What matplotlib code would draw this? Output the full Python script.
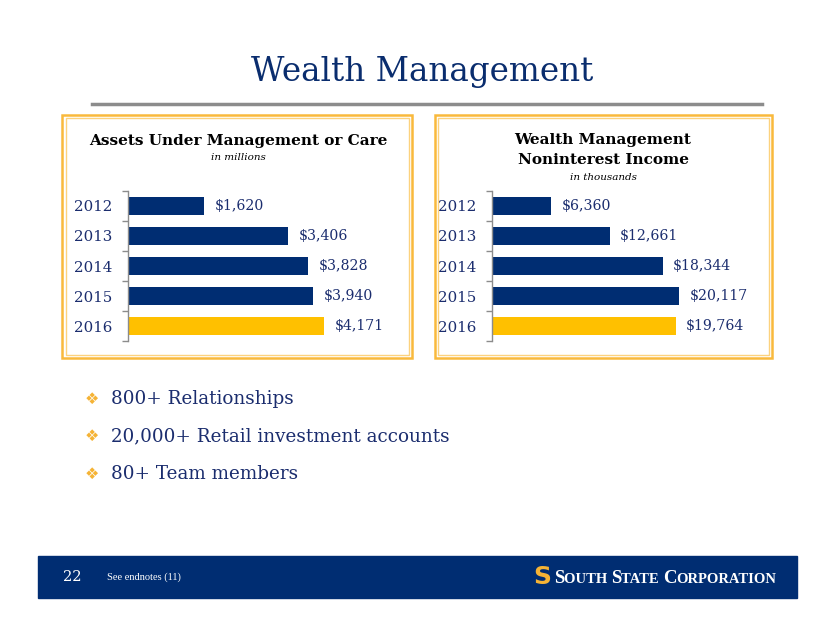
import matplotlib
matplotlib.use("Agg")
import matplotlib.pyplot as plt
from matplotlib.patches import Rectangle
from matplotlib.ticker import FixedLocator

# data
years = ["2012", "2013", "2014", "2015", "2016"]
aum_values = [1620, 3406, 3828, 3940, 4171]
income_values = [6360, 12661, 18344, 20117, 19764]
bullets = ["800+ Relationships", "20,000+ Retail investment accounts", "80+ Team members"]

NAVY = "#002D72"
GOLD = "#FFC000"
TEXT_NAVY = "#1B2D6E"
BORDER = "#F9B93C"
SERIF = ["DejaVu Serif"]

W, H = 834, 635
fig = plt.figure(figsize=(W / 100, H / 100), dpi=100)


def fx(px):
    return px / W


def fy(py):
    return 1 - py / H


def box(x0, y0, x1, y1):
    # double orange frame: thick outer, thin light inner
    fig.patches.append(Rectangle((fx(x0), fy(y1)), fx(x1 - x0), (y1 - y0) / H,
                                 transform=fig.transFigure, fill=False,
                                 edgecolor=BORDER, lw=1.8))
    fig.patches.append(Rectangle((fx(x0 + 3.5), fy(y1 - 3.5)), fx(x1 - x0 - 7), (y1 - y0 - 7) / H,
                                 transform=fig.transFigure, fill=False,
                                 edgecolor="#FCD27E", lw=1.0))


def bar_panel(rect, values, xmax, fmt):
    ax = fig.add_axes(rect)
    colors = [NAVY] * (len(values) - 1) + [GOLD]
    pos = list(range(len(values)))
    ax.barh(pos, values, height=0.63, color=colors)
    ax.set_ylim(len(values) - 0.5, -0.5)
    ax.set_xlim(0, xmax)
    for s in ["top", "right", "bottom"]:
        ax.spines[s].set_visible(False)
    ax.spines["left"].set_color("#8C8C8C")
    ax.spines["left"].set_linewidth(1.0)
    ax.set_xticks([])
    ax.set_yticks(pos)
    ax.set_yticklabels(years, fontsize=10.8, color=TEXT_NAVY, family=SERIF)
    ax.yaxis.set_minor_locator(FixedLocator([p - 0.5 for p in pos] + [pos[-1] + 0.5]))
    ax.tick_params(axis="y", which="major", length=0, pad=11)
    ax.tick_params(axis="y", which="minor", length=4, color="#8C8C8C", width=1.0)
    for p, v in zip(pos, values):
        ax.annotate(fmt(v), (v, p), xytext=(7.5, 0), textcoords="offset points",
                    va="center", ha="left", fontsize=10.2, color=TEXT_NAVY, family=SERIF)
    ax.patch.set_alpha(0)
    return ax


money = lambda v: f"${v:,}"

# title and rule
fig.text(fx(422), fy(72), "Wealth Management", ha="center", va="center",
         fontsize=23.5, color="#0A2D6E", family=SERIF)
fig.add_artist(plt.Line2D([fx(92), fx(762)], [fy(104), fy(104)], color="#8C8C8C", lw=2.5))

# left panel
box(62, 115, 412, 358)
fig.text(fx(238), fy(141), "Assets Under Management or Care", ha="center", va="center",
         fontsize=11, fontweight="bold", color="black", family=SERIF)
fig.text(fx(238), fy(157), "in millions", ha="center", va="center",
         fontsize=7.5, style="italic", color="black", family=SERIF)
bar_panel([fx(128), fy(341), fx(395 - 128), 150 / H], aum_values, 267 / 0.04705, money)

# right panel
box(435, 115, 772, 358)
fig.text(fx(603), fy(140), "Wealth Management", ha="center", va="center",
         fontsize=11, fontweight="bold", color="black", family=SERIF)
fig.text(fx(603), fy(160), "Noninterest Income", ha="center", va="center",
         fontsize=11, fontweight="bold", color="black", family=SERIF)
fig.text(fx(603), fy(177), "in thousands", ha="center", va="center",
         fontsize=7.5, style="italic", color="black", family=SERIF)
bar_panel([fx(492), fy(341), fx(765 - 492), 150 / H], income_values, 273 / 0.009295, money)

# bullet list
for i, b in enumerate(bullets):
    y = 399 + i * 37.5
    fig.text(fx(92), fy(y), "\u2756", ha="center", va="center", fontsize=11.5,
             color="#F5B335", family=["DejaVu Sans"])
    fig.text(fx(111), fy(y), b, ha="left", va="center", fontsize=13.2,
             color=TEXT_NAVY, family=SERIF)

# footer band
fig.patches.append(Rectangle((fx(38), fy(598)), fx(797 - 38), 42 / H,
                             transform=fig.transFigure, color="#002D72", zorder=0))
fig.text(fx(63), fy(577), "22", ha="left", va="center", fontsize=10.5,
         color="white", family=SERIF)
fig.text(fx(107), fy(577), "See endnotes (11)", ha="left", va="center", fontsize=7.5,
         color="white", family=["Liberation Serif"])
fig.text(fx(542), fy(577), "S", ha="center", va="center", fontsize=18, fontweight="bold",
         color="#F5B335", family=["DejaVu Sans"])

# logo text as fake small caps
renderer = fig.canvas.get_renderer()
x = fx(554)
pieces = [("S", 13.5), ("OUTH ", 10.5), ("S", 13.5), ("TATE ", 10.5), ("C", 13.5), ("ORPORATION", 10.5)]
for txt, size in pieces:
    t = fig.text(x, fy(583), txt, ha="left", va="baseline", fontsize=size,
                 color="white", fontweight="bold", family=["Liberation Serif"])
    bb = t.get_window_extent(renderer)
    x += bb.width / W

fig.savefig("out.png", dpi=100, facecolor="white")
